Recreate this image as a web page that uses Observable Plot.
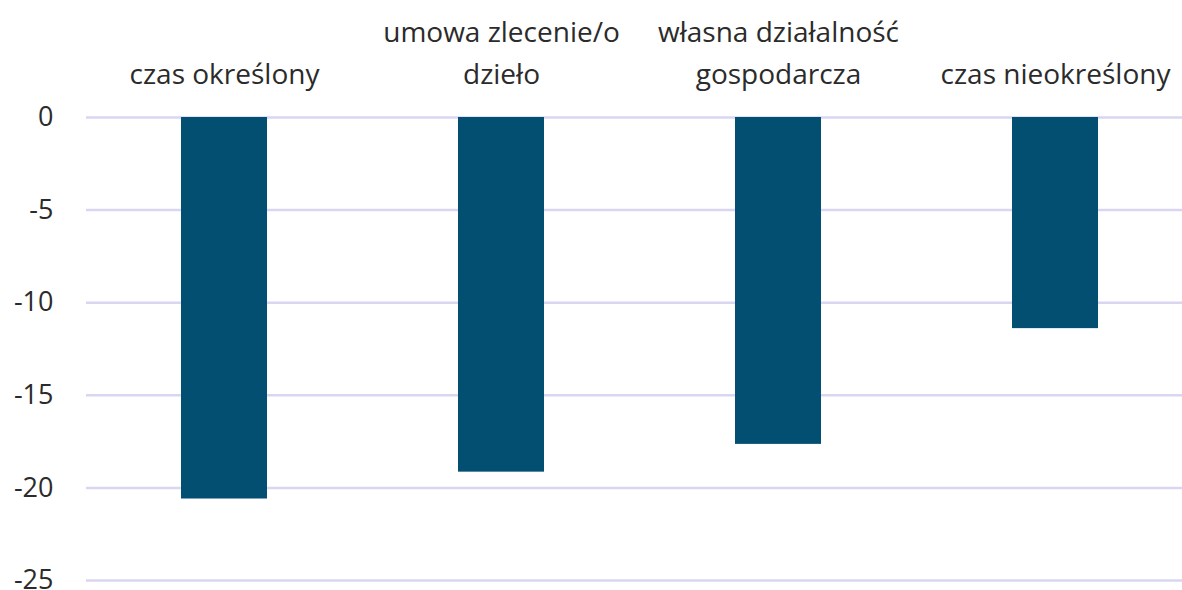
<!DOCTYPE html>
<html>
<head>
<meta charset="utf-8">
<script src="https://cdn.jsdelivr.net/npm/d3@7"></script>
<script src="https://cdn.jsdelivr.net/npm/@observablehq/plot@0.6"></script>
<style>
  html, body { margin: 0; padding: 0; background: #fff; overflow: hidden; }
  #chart { width: 1182px; height: 590px; }
</style>
</head>
<body>
<div id="chart"></div>
<script>
const categories = ["czas określony", "umowa zlecenie/o dzieło", "własna działalność gospodarcza", "czas nieokreślony"];
const categoryLabels = ["czas określony", "umowa zlecenie/o\ndzieło", "własna działalność\ngospodarcza", "czas nieokreślony"];
const values = [-20.6, -19.15, -17.65, -11.4];
const yTicks = [0, -5, -10, -15, -20, -25];

const data = categories.map((c, i) => ({category: c, value: values[i]}));
const labelOf = new Map(categories.map((c, i) => [c, categoryLabels[i]]));

const chart = Plot.plot({
  width: 1182,
  height: 590,
  marginTop: 117,
  marginBottom: 10,
  marginLeft: 86,
  marginRight: 0,
  style: {fontFamily: "'Open Sans', sans-serif", fontSize: "27px", color: "#2b2b2b", background: "#fff", overflow: "hidden"},
  x: {domain: categories, range: [86, 1194], paddingInner: 0.688, paddingOuter: 0.344, label: null},
  y: {domain: [-25, 0], label: null},
  marks: [
    Plot.ruleY(yTicks, {stroke: "#d9d6f2", strokeWidth: 2.5, insetRight: -20}),
    Plot.barY(data, {x: "category", y: "value", fill: "#034f72"}),
    Plot.axisY({ticks: yTicks, tickSize: 0, tickPadding: 33, label: null, tickFormat: d => d === 0 ? "0" : "-" + Math.abs(d), fontSize: 27, fill: "#2b2b2b"}),
    Plot.axisX({anchor: "top", tickSize: 0, tickPadding: 34, lineHeight: 1.5, label: null, tickFormat: d => labelOf.get(d), fontSize: 28, fill: "#2b2b2b"})
  ]
});
document.getElementById("chart").append(chart);
</script>
</body>
</html>
